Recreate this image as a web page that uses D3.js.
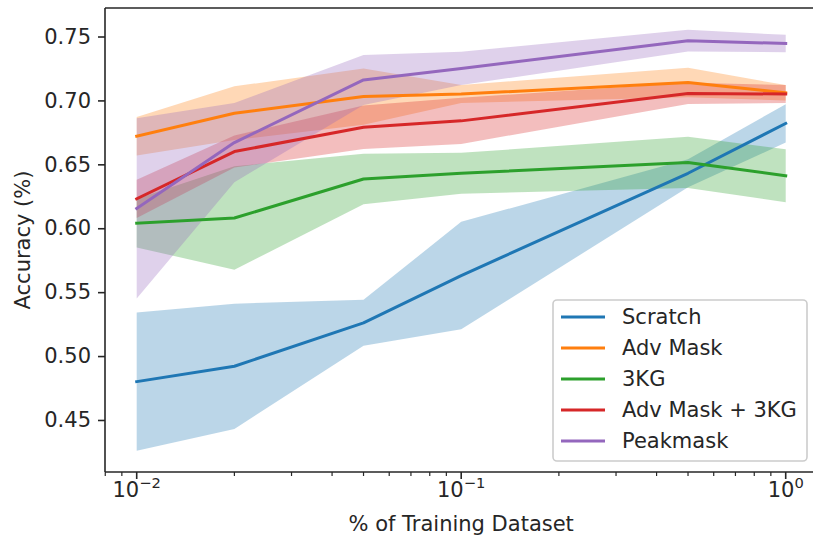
<!DOCTYPE html>
<html>
<head>
<meta charset="utf-8">
<script src="https://cdn.jsdelivr.net/npm/d3@7"></script>
<style>
  html, body { margin: 0; padding: 0; background: #fff; }
  svg { display: block; }
  text { font-family: "DejaVu Sans", sans-serif; fill: #262626; }
</style>
</head>
<body>
<svg id="chart" width="813" height="537"></svg>
<script>
// ---- data ----
const fractions = [0.01, 0.02, 0.05, 0.1, 0.5, 1.0];
const seriesNames = ["Scratch", "Adv Mask", "3KG", "Adv Mask + 3KG", "Peakmask"];
const scratchMean = [0.480, 0.492, 0.526, 0.563, 0.643, 0.682];
const scratchStd  = [0.054, 0.049, 0.018, 0.042, 0.011, 0.015];
const advMaskMean = [0.672, 0.690, 0.703, 0.705, 0.714, 0.706];
const advMaskStd  = [0.015, 0.021, 0.022, 0.007, 0.0115, 0.006];
const kgMean      = [0.604, 0.608, 0.6385, 0.643, 0.6515, 0.641];
const kgStd       = [0.019, 0.0405, 0.0197, 0.016, 0.020, 0.0207];
const advKgMean   = [0.623, 0.660, 0.679, 0.684, 0.7055, 0.705];
const advKgStd    = [0.015, 0.0125, 0.017, 0.018, 0.0083, 0.007];
const peakMean    = [0.6155, 0.667, 0.716, 0.725, 0.7467, 0.7445];
const peakStd     = [0.0705, 0.031, 0.0195, 0.013, 0.0085, 0.0068];
const yTicks = [0.45, 0.50, 0.55, 0.60, 0.65, 0.70, 0.75];
const xTickExps = [-2, -1, 0];
const xLabel = "% of Training Dataset";
const yLabel = "Accuracy (%)";

const colors = ["#1f77b4", "#ff7f0e", "#2ca02c", "#d62728", "#9467bd"];
const means = [scratchMean, advMaskMean, kgMean, advKgMean, peakMean];
const stds  = [scratchStd, advMaskStd, kgStd, advKgStd, peakStd];

// ---- layout ----
const pLeft = 105, pTop = 8, pBottom = 472;
const decadePx = 324.5;
const xPad = 0.0977;
const pRight = pLeft + decadePx * (2 + 2 * xPad);

const svg = d3.select("#chart");
const x = d3.scaleLog().domain([Math.pow(10, -2 - xPad), Math.pow(10, xPad)]).range([pLeft, pRight]);
const y = d3.scaleLinear().domain([0.4093, 0.7723]).range([pBottom, pTop]);

svg.append("defs").append("clipPath").attr("id", "clip")
  .append("rect").attr("x", pLeft).attr("y", pTop).attr("width", pRight - pLeft).attr("height", pBottom - pTop);

const plot = svg.append("g").attr("clip-path", "url(#clip)");

const series = seriesNames.map((name, i) => ({
  name, color: colors[i],
  pts: fractions.map((f, j) => ({ f, m: means[i][j], s: stds[i][j] }))
}));

const area = d3.area().x(d => x(d.f)).y0(d => y(d.m - d.s)).y1(d => y(d.m + d.s));
const line = d3.line().x(d => x(d.f)).y(d => y(d.m));

plot.selectAll("path.band").data(series).join("path")
  .attr("class", "band")
  .attr("d", d => area(d.pts))
  .attr("fill", d => d.color)
  .attr("fill-opacity", 0.3)
  .attr("stroke", "none");

plot.selectAll("path.line").data(series).join("path")
  .attr("class", "line")
  .attr("d", d => line(d.pts))
  .attr("fill", "none")
  .attr("stroke", d => d.color)
  .attr("stroke-width", 3)
  .attr("stroke-linejoin", "round")
  .attr("stroke-linecap", "square");

// ---- axes ----
const fs = 21;
const yAxis = d3.axisLeft(y).tickValues(yTicks).tickFormat(d3.format(".2f")).tickSize(7).tickPadding(7);
const gy = svg.append("g").attr("transform", `translate(${pLeft},0)`).call(yAxis);
gy.select(".domain").remove();
gy.selectAll(".tick line").attr("stroke", "#262626").attr("stroke-width", 1.6);
gy.selectAll(".tick text").attr("font-size", fs).attr("font-family", "DejaVu Sans").attr("fill", "#262626");

const xMajor = xTickExps.map(e => Math.pow(10, e));
const xMinor = [];
[-3, -2, -1, 0].forEach(e => { for (let k = 2; k <= 9; k++) { const v = k * Math.pow(10, e); if (v >= x.domain()[0] && v <= x.domain()[1]) xMinor.push(v); } });

const gx = svg.append("g").attr("transform", `translate(0,${pBottom})`);
gx.selectAll("line.minor").data(xMinor).join("line")
  .attr("class", "minor")
  .attr("x1", d => x(d)).attr("x2", d => x(d)).attr("y1", 0).attr("y2", 4)
  .attr("stroke", "#262626").attr("stroke-width", 1.2);
gx.selectAll("line.major").data(xMajor).join("line")
  .attr("class", "major")
  .attr("x1", d => x(d)).attr("x2", d => x(d)).attr("y1", 0).attr("y2", 7)
  .attr("stroke", "#262626").attr("stroke-width", 1.6);
const xt = gx.selectAll("text.xt").data(xTickExps).join("text")
  .attr("class", "xt")
  .attr("x", e => x(Math.pow(10, e)))
  .attr("y", 25)
  .attr("text-anchor", "middle")
  .attr("font-size", fs);
xt.append("tspan").text("10");
xt.append("tspan").attr("dy", -9).attr("font-size", fs * 0.7).text(e => e < 0 ? "\u2212" + (-e) : String(e));

// spines
const spine = (x1, y1, x2, y2) => svg.append("line").attr("x1", x1).attr("y1", y1).attr("x2", x2).attr("y2", y2).attr("stroke", "#262626").attr("stroke-width", 1.6);
spine(pLeft, pTop, pLeft, pBottom);
spine(pLeft, pBottom, pRight, pBottom);
spine(pLeft, pTop, pRight, pTop);
spine(pRight, pTop, pRight, pBottom);

// labels
svg.append("text").attr("x", (pLeft + pRight) / 2).attr("y", 531).attr("text-anchor", "middle").attr("font-size", fs).text(xLabel);
svg.append("text").attr("transform", `translate(30,${(pTop + pBottom) / 2}) rotate(-90)`).attr("text-anchor", "middle").attr("font-size", fs).text(yLabel);

// ---- legend ----
const lg = svg.append("g");
const lx = 553, ly = 300, lw = 254, lh = 161;
lg.append("rect").attr("x", lx).attr("y", ly).attr("width", lw).attr("height", lh)
  .attr("rx", 4).attr("fill", "#fff").attr("fill-opacity", 0.8)
  .attr("stroke", "#cccccc").attr("stroke-width", 1.6);
series.forEach((s, i) => {
  const yy = 317 + i * 31;
  lg.append("line").attr("x1", 561).attr("x2", 605).attr("y1", yy).attr("y2", yy)
    .attr("stroke", s.color).attr("stroke-width", 3);
  lg.append("text").attr("x", 622).attr("y", yy).attr("dy", "0.35em").attr("font-size", fs).text(s.name);
});
</script>
</body>
</html>
